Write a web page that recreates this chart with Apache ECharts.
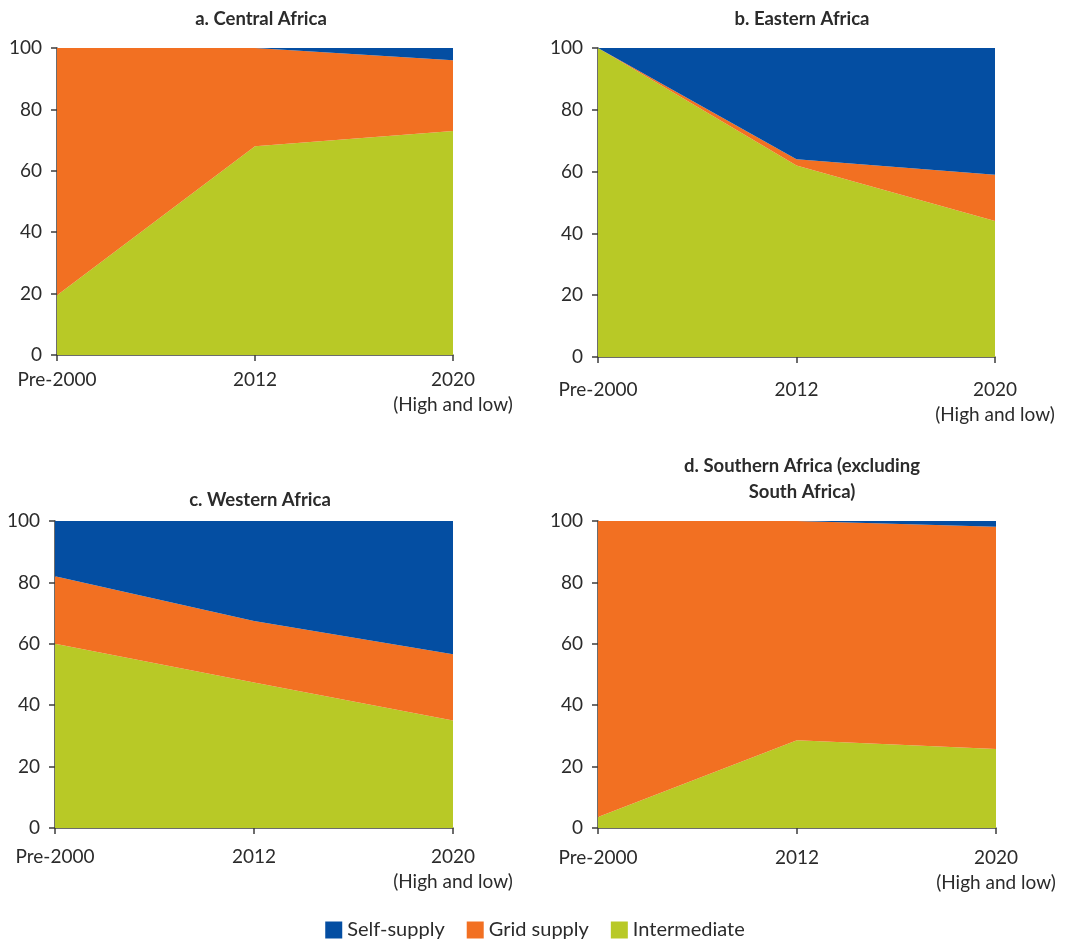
<!DOCTYPE html>
<html>
<head>
<meta charset="utf-8">
<script src="https://cdn.jsdelivr.net/npm/echarts@6/dist/echarts.min.js"></script>
<style>
html,body{margin:0;padding:0;background:#fff;}
#chart{width:1070px;height:945px;}
</style>
</head>
<body>
<div id="chart"></div>
<script>
// ---- Data ----
const categories = ['Pre-2000', '2012', '2020\n(High and low)'];
const yTicks = [0, 20, 40, 60, 80, 100];

const panelTitles = ['a. Central Africa', 'b. Eastern Africa', 'c. Western Africa', 'd. Southern Africa (excluding\nSouth Africa)'];

// Central Africa
const centralIntermediate = [19.5, 68, 73];
const centralGrid = [80.5, 32, 23];
const centralSelf = [0, 0, 4];
// Eastern Africa
const easternIntermediate = [100, 62, 44];
const easternGrid = [0, 2, 15];
const easternSelf = [0, 36, 41];
// Western Africa
const westernIntermediate = [60, 47.4, 35];
const westernGrid = [22, 20, 21.6];
const westernSelf = [18, 32.6, 43.4];
// Southern Africa (excluding South Africa)
const southernIntermediate = [3.6, 28.6, 25.7];
const southernGrid = [96.4, 71.4, 72.4];
const southernSelf = [0, 0, 1.9];

const seriesNames = ['Self-supply', 'Grid supply', 'Intermediate'];
const colors = {'Self-supply': '#044ea2', 'Grid supply': '#f27022', 'Intermediate': '#b8c926'};

const panels = [
  {inter: centralIntermediate, grid: centralGrid, self: centralSelf},
  {inter: easternIntermediate, grid: easternGrid, self: easternSelf},
  {inter: westernIntermediate, grid: westernGrid, self: westernSelf},
  {inter: southernIntermediate, grid: southernGrid, self: southernSelf}
];

// ---- Layout ----
const grids = [
  {left: 57, width: 396, top: 48, height: 307},
  {left: 598, width: 397, top: 48, height: 309},
  {left: 55, width: 398, top: 521, height: 307},
  {left: 598, width: 398, top: 521, height: 307}
];
const labelMargins = [12, 20, 16, 17];
const titlePos = [
  {x: 256, y: 1},
  {x: 797, y: 1},
  {x: 255, y: 482},
  {x: 797, y: 448}
];

const FONT = 'Lato, "Noto Sans", sans-serif';
const axisColor = '#3c3c3c';
const textColor = '#2b2b2b';

const option = {
  backgroundColor: '#fff',
  animation: false,
  title: panelTitles.map((t, i) => ({
    text: t,
    left: titlePos[i].x,
    top: titlePos[i].y,
    textAlign: 'center',
    textStyle: {fontFamily: FONT, fontSize: 18.5, fontWeight: 'bold', color: textColor, lineHeight: 26}
  })),
  legend: {
    bottom: 0,
    left: 'center',
    itemWidth: 17,
    itemHeight: 17,
    itemGap: 22,
    icon: 'rect',
    data: seriesNames,
    textStyle: {fontFamily: FONT, fontSize: 20, color: textColor}
  },
  grid: grids.map(g => Object.assign({containLabel: false}, g)),
  xAxis: grids.map((g, i) => ({
    type: 'category',
    gridIndex: i,
    data: categories,
    boundaryGap: false,
    axisLine: {show: true, lineStyle: {color: axisColor, width: 1.5}},
    axisTick: {show: true, length: 6, lineStyle: {color: axisColor, width: 1.5}},
    axisLabel: {fontFamily: FONT, fontSize: 19, color: textColor, margin: labelMargins[i], lineHeight: 25, interval: 0},
    splitLine: {show: false}
  })),
  yAxis: grids.map((g, i) => ({
    type: 'value',
    gridIndex: i,
    min: 0,
    max: 100,
    interval: 20,
    axisLine: {show: true, lineStyle: {color: axisColor, width: 1.5}},
    axisTick: {show: true, length: 6, lineStyle: {color: axisColor, width: 1.5}},
    axisLabel: {fontFamily: FONT, fontSize: 19, color: textColor, margin: 15,
      formatter: v => (yTicks.indexOf(v) >= 0 ? String(v) : '')},
    splitLine: {show: false}
  })),
  series: []
};

panels.forEach((p, i) => {
  const order = [
    ['Intermediate', p.inter],
    ['Grid supply', p.grid],
    ['Self-supply', p.self]
  ];
  order.forEach(([name, data]) => {
    option.series.push({
      name: name,
      type: 'line',
      xAxisIndex: i,
      yAxisIndex: i,
      stack: 'total' + i,
      data: data,
      symbol: 'none',
      showSymbol: false,
      lineStyle: {width: 0, color: colors[name]},
      itemStyle: {color: colors[name]},
      areaStyle: {color: colors[name], opacity: 1},
      z: 1
    });
  });
});

const chart = echarts.init(document.getElementById('chart'), null, {renderer: 'canvas'});
chart.setOption(option);
</script>
</body>
</html>
